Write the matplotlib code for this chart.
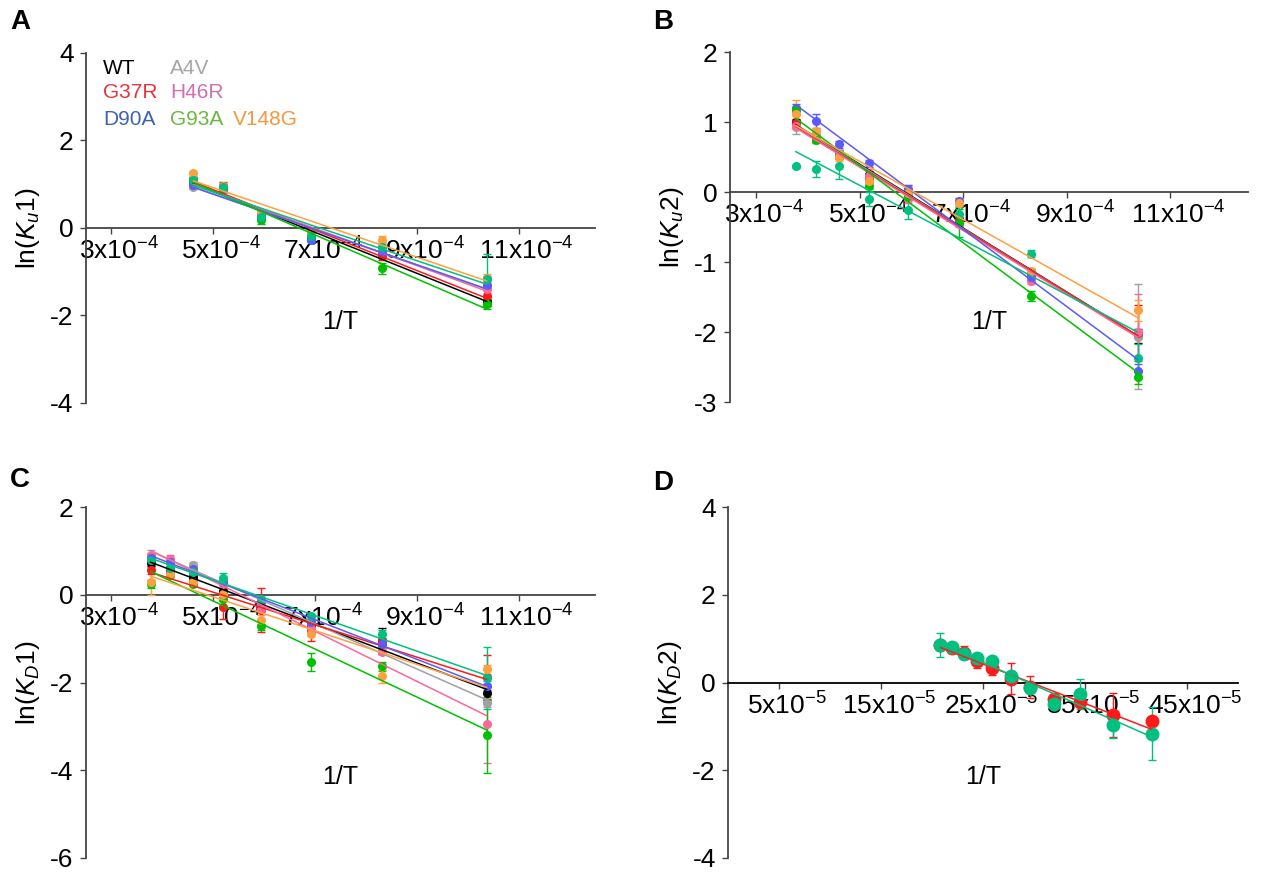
import numpy as np
import matplotlib
matplotlib.use('Agg')
import matplotlib.pyplot as plt
import matplotlib.transforms as mtransforms

plt.rcParams['font.family'] = ['Liberation Sans', 'DejaVu Sans']
plt.rcParams['mathtext.fontset'] = 'custom'
plt.rcParams['mathtext.rm'] = 'Liberation Sans'
plt.rcParams['mathtext.it'] = 'Liberation Sans:italic'
plt.rcParams['axes.unicode_minus'] = False

# series names, line/marker colours and legend text colours
names = ['WT', 'A4V', 'G37R', 'H46R', 'D90A', 'G93A', 'V148G', 'unlabeled']
line_colors = {'WT': 'black', 'A4V': '#a0a0a0', 'G37R': '#ff1a1a', 'H46R': '#ff6699',
               'D90A': '#5a5aff', 'G93A': '#00c000', 'V148G': '#ffa040', 'unlabeled': '#00c080'}
legend_colors = {'WT': 'black', 'A4V': '#a6a6a6', 'G37R': '#e8323c', 'H46R': '#d070b0',
                 'D90A': '#3f62b0', 'G93A': '#6ab840', 'V148G': '#f7963a'}

# 1/T values
x6 = [4.61e-4, 5.19e-4, 5.93e-4, 6.92e-4, 8.31e-4, 10.37e-4]
x8 = [3.77e-4, 4.16e-4, 4.61e-4, 5.19e-4, 5.93e-4, 6.92e-4, 8.31e-4, 10.37e-4]

# panel A: ln(Ku1)
ku1 = {
    'WT':        [1.02, 0.92, 0.22, -0.18, -0.62, -1.68],
    'A4V':       [0.93, 0.85, 0.28, -0.10, -0.58, -1.35],
    'G37R':      [1.08, 0.95, 0.30, -0.15, -0.65, -1.55],
    'H46R':      [1.00, 0.92, 0.32, -0.12, -0.55, -1.40],
    'D90A':      [0.98, 0.88, 0.30, -0.28, -0.55, -1.30],
    'G93A':      [1.10, 0.90, 0.18, -0.15, -0.93, -1.75],
    'V148G':     [1.24, 0.95, 0.35, -0.12, -0.28, -1.15],
    'unlabeled': [1.10, 0.92, 0.25, -0.20, -0.45, -1.18],
}
ku1_err = {
    'WT':        [0.05, 0.05, 0.05, 0.05, 0.08, 0.10],
    'A4V':       [0.05, 0.05, 0.05, 0.05, 0.08, 0.15],
    'G37R':      [0.05, 0.10, 0.05, 0.05, 0.08, 0.15],
    'H46R':      [0.05, 0.10, 0.05, 0.05, 0.08, 0.30],
    'D90A':      [0.05, 0.05, 0.05, 0.05, 0.08, 0.10],
    'G93A':      [0.05, 0.05, 0.10, 0.05, 0.12, 0.10],
    'V148G':     [0.05, 0.05, 0.05, 0.05, 0.08, 0.10],
    'unlabeled': [0.05, 0.05, 0.05, 0.05, 0.08, 0.57],
}

# panel B: ln(Ku2)
ku2 = {
    'WT':        [1.00, 0.78, 0.55, 0.25, -0.02, -0.40, -1.15, -2.05],
    'A4V':       [0.93, 0.80, 0.55, 0.22, 0.02, -0.42, -1.15, -2.07],
    'G37R':      [0.98, 0.76, 0.53, 0.20, -0.05, -0.42, -1.20, -2.02],
    'H46R':      [0.95, 0.78, 0.52, 0.23, -0.10, -0.45, -1.27, -2.00],
    'D90A':      [1.20, 1.01, 0.68, 0.41, 0.05, -0.13, -1.22, -2.56],
    'G93A':      [1.17, 0.75, 0.52, 0.09, -0.05, -0.44, -1.48, -2.64],
    'V148G':     [1.11, 0.87, 0.50, 0.16, -0.01, -0.15, -1.13, -1.69],
    'unlabeled': [0.37, 0.33, 0.37, -0.10, -0.25, -0.32, -0.88, -2.37],
}
ku2_err = {
    'WT':        [0.05, 0.05, 0.05, 0.05, 0.05, 0.05, 0.05, 0.10],
    'A4V':       [0.10, 0.05, 0.05, 0.05, 0.08, 0.05, 0.05, 0.75],
    'G37R':      [0.05, 0.05, 0.05, 0.05, 0.05, 0.05, 0.05, 0.40],
    'H46R':      [0.05, 0.05, 0.05, 0.10, 0.05, 0.05, 0.05, 0.55],
    'D90A':      [0.06, 0.10, 0.05, 0.05, 0.05, 0.05, 0.05, 0.10],
    'G93A':      [0.05, 0.05, 0.05, 0.05, 0.05, 0.20, 0.07, 0.10],
    'V148G':     [0.20, 0.05, 0.05, 0.05, 0.05, 0.05, 0.05, 0.15],
    'unlabeled': [0.02, 0.12, 0.18, 0.10, 0.14, 0.10, 0.05, 0.20],
}

# panel C: ln(KD1)
kd1 = {
    'WT':        [0.72, 0.60, 0.40, 0.10, -0.25, -0.70, -1.05, -2.25],
    'A4V':       [0.88, 0.82, 0.69, 0.30, -0.20, -0.65, -1.20, -2.47],
    'G37R':      [0.56, 0.55, 0.30, -0.27, -0.35, -0.80, -1.05, -1.88],
    'H46R':      [0.90, 0.82, 0.55, 0.25, -0.32, -0.75, -1.31, -2.94],
    'D90A':      [0.85, 0.75, 0.59, 0.30, -0.15, -0.62, -1.12, -2.07],
    'G93A':      [0.25, 0.45, 0.25, -0.10, -0.70, -1.53, -1.63, -3.19],
    'V148G':     [0.30, 0.48, 0.30, 0.01, -0.57, -0.89, -1.86, -1.70],
    'unlabeled': [0.80, 0.62, 0.52, 0.39, -0.10, -0.49, -0.89, -1.90],
}
kd1_err = {
    'WT':        [0.05, 0.05, 0.05, 0.05, 0.05, 0.05, 0.30, 0.15],
    'A4V':       [0.15, 0.05, 0.05, 0.05, 0.05, 0.05, 0.05, 0.10],
    'G37R':      [0.08, 0.05, 0.05, 0.28, 0.50, 0.25, 0.05, 0.50],
    'H46R':      [0.05, 0.08, 0.05, 0.05, 0.05, 0.05, 0.05, 0.90],
    'D90A':      [0.05, 0.05, 0.05, 0.05, 0.05, 0.05, 0.05, 0.10],
    'G93A':      [0.10, 0.05, 0.05, 0.05, 0.10, 0.20, 0.10, 0.87],
    'V148G':     [0.30, 0.05, 0.05, 0.05, 0.10, 0.05, 0.15, 0.10],
    'unlabeled': [0.05, 0.05, 0.05, 0.10, 0.05, 0.05, 0.10, 0.70],
}

# panel D: ln(KD2), two series
xd = [20.8e-5, 21.9e-5, 23.1e-5, 24.4e-5, 25.9e-5, 27.7e-5, 29.6e-5, 31.9e-5, 34.5e-5, 37.7e-5, 41.5e-5]
kd2_red = [0.85, 0.78, 0.68, 0.49, 0.32, 0.09, -0.10, -0.38, -0.44, -0.75, -0.89]
kd2_red_err = [0.10, 0.10, 0.15, 0.17, 0.14, 0.35, 0.25, 0.05, 0.05, 0.50, 0.05]
kd2_teal = [0.85, 0.80, 0.66, 0.55, 0.49, 0.14, -0.12, -0.49, -0.27, -0.97, -1.17]
kd2_teal_err = [0.27, 0.05, 0.05, 0.05, 0.05, 0.05, 0.10, 0.05, 0.34, 0.30, 0.60]

ticks_e4 = [3e-4, 5e-4, 7e-4, 9e-4, 11e-4]
tick_labels_e4 = [r'3x10$^{-4}$', r'5x10$^{-4}$', r'7x10$^{-4}$', r'9x10$^{-4}$', r'11x10$^{-4}$']
ticks_e5 = [5e-5, 15e-5, 25e-5, 35e-5, 45e-5]
tick_labels_e5 = [r'5x10$^{-5}$', r'15x10$^{-5}$', r'25x10$^{-5}$', r'35x10$^{-5}$', r'45x10$^{-5}$']

W, H = 1266, 872
fig = plt.figure(figsize=(W / 100, H / 100), dpi=100)
# x tick labels sit a little right of their ticks in the original
label_shift = mtransforms.ScaledTranslation(0.08, 0, fig.dpi_scale_trans)


def make_axes(left, right, top, bottom):
    return fig.add_axes([left / W, 1 - bottom / H, (right - left) / W, (bottom - top) / H])


def style_axes(ax, xlim, ylim, yticks, xticks, xlabels, ylabel):
    ax.set_xlim(*xlim)
    ax.set_ylim(*ylim)
    for s in ['top', 'right']:
        ax.spines[s].set_visible(False)
    ax.spines['bottom'].set_position(('data', 0))
    for s in ['left', 'bottom']:
        ax.spines[s].set_color('#444444')
        ax.spines[s].set_linewidth(1.3)
    ax.set_xticks(xticks)
    ax.set_xticklabels(xlabels)
    ax.set_yticks(yticks)
    ax.set_yticklabels([str(t) for t in yticks])
    ax.tick_params(axis='both', labelsize=19, color='#444444', direction='out', length=4, width=1)
    ax.tick_params(axis='x', pad=3)
    ax.tick_params(axis='y', pad=5)
    for lab in ax.get_xticklabels():
        lab.set_transform(lab.get_transform() + label_shift)
    ax.set_ylabel(ylabel, fontsize=19, labelpad=6)
    ax.text(0.5, 0.23, '1/T', transform=ax.transAxes, fontsize=18, ha='center', va='center')


def draw_series(ax, x, y, err, color, ms=5.5):
    x = np.array(x)
    y = np.array(y)
    ax.errorbar(x, y, yerr=err, fmt='o', color=color, ms=ms, capsize=3,
                elinewidth=1, capthick=1, zorder=3)
    k, b = np.polyfit(x, y, 1)
    xs = np.array([x.min(), x.max()])
    ax.plot(xs, k * xs + b, color=color, lw=1.1, zorder=4)


# A
axA = make_axes(86, 595, 52.7, 402.7)
for n in names:
    draw_series(axA, x6, ku1[n], ku1_err[n], line_colors[n])
style_axes(axA, (2.5e-4, 12.5e-4), (-4, 4), [-4, -2, 0, 2, 4], ticks_e4, tick_labels_e4,
           r'ln($K_u$$\mathit{1}$)')
leg_pos = {'WT': (0.033, 0.956), 'A4V': (0.165, 0.956), 'G37R': (0.033, 0.885),
           'H46R': (0.165, 0.885), 'D90A': (0.033, 0.810), 'G93A': (0.165, 0.810),
           'V148G': (0.288, 0.810)}
for n, (lx, ly) in leg_pos.items():
    axA.text(lx, ly, n, transform=axA.transAxes, color=legend_colors[n],
             fontsize=15, ha='left', va='center')

# B
axB = make_axes(730, 1248, 52, 402)
for n in names:
    draw_series(axB, x8, ku2[n], ku2_err[n], line_colors[n])
style_axes(axB, (2.5e-4, 12.5e-4), (-3, 2), [-3, -2, -1, 0, 1, 2], ticks_e4, tick_labels_e4,
           r'ln($K_u$$\mathit{2}$)')

# C
axC = make_axes(86, 595, 507.3, 857.7)
for n in names:
    draw_series(axC, x8, kd1[n], kd1_err[n], line_colors[n])
style_axes(axC, (2.5e-4, 12.5e-4), (-6, 2), [-6, -4, -2, 0, 2], ticks_e4, tick_labels_e4,
           r'ln($K_D$$\mathit{1}$)')

# D
axD = make_axes(728.3, 1238.3, 507.3, 857.7)
draw_series(axD, xd, kd2_red, kd2_red_err, '#ff1a1a', ms=9)
draw_series(axD, xd, kd2_teal, kd2_teal_err, '#00c080', ms=9)
style_axes(axD, (0, 50e-5), (-4, 4), [-4, -2, 0, 2, 4], ticks_e5, tick_labels_e5,
           r'ln($K_D$$\mathit{2}$)')
axD.spines['bottom'].set_color('black')

for letter, px, py in [('A', 20, 22), ('B', 663, 22), ('C', 20, 480), ('D', 663, 483)]:
    fig.text(px / W, 1 - py / H, letter, fontsize=20, fontweight='bold', ha='center', va='center')

fig.savefig('out.png', dpi=100)
